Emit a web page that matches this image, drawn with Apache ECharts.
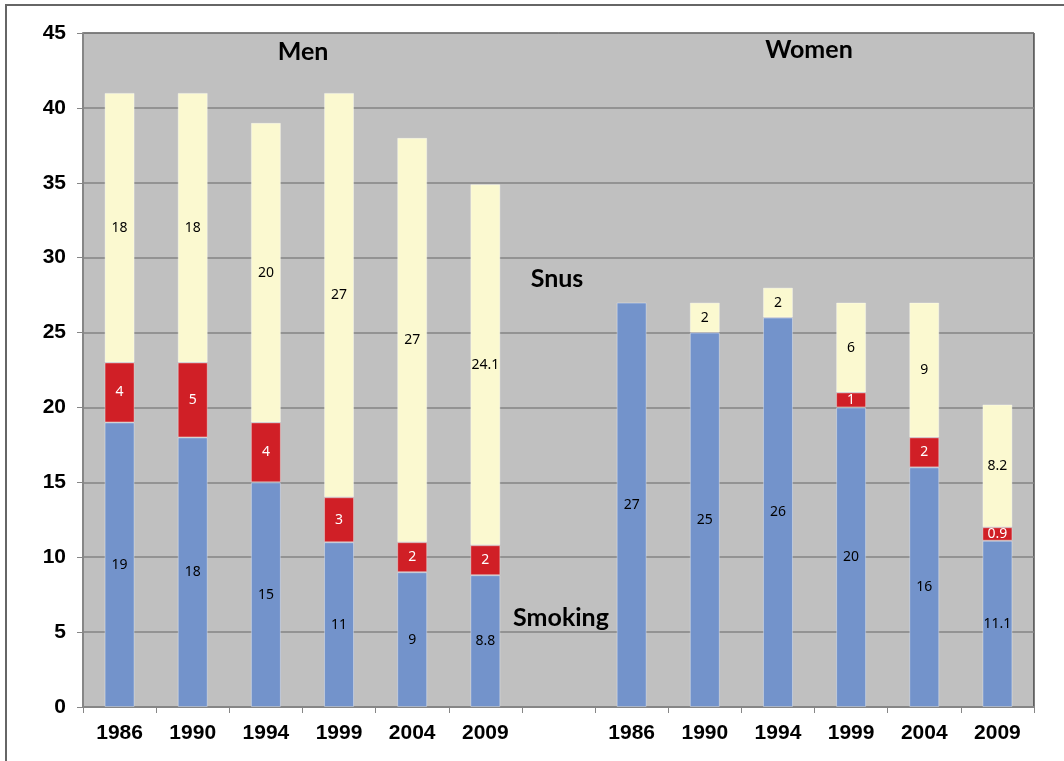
<!DOCTYPE html>
<html><head><meta charset="utf-8">
<script src="https://cdn.jsdelivr.net/npm/echarts@6/dist/echarts.min.js"></script>
<style>html,body{margin:0;padding:0;background:#fff}#c{width:1064px;height:761px}</style>
</head><body><div id="c"></div>
<script>
const categories = ['1986','1990','1994','1999','2004','2009','','1986','1990','1994','1999','2004','2009'];
const smoking = [19,18,15,11,9,8.8,null,27,25,26,20,16,11.1];
const both = [4,5,4,3,2,2,null,null,null,null,1,2,0.9];
const snus = [18,18,20,27,27,24.1,null,null,2,2,6,9,8.2];
const yTicks = {min:0,max:45,interval:5};

const chart = echarts.init(document.getElementById('c'));
const lblFont = {fontFamily:'Noto Sans',fontSize:14};
function mk(name,data,color,lblColor){
  return {name,type:'bar',stack:'s',data,barWidth:30,
    itemStyle:{color,borderColor:'rgba(255,255,255,0.35)',borderWidth:1},
    label:{show:true,position:'inside',color:lblColor,...lblFont,formatter:p=>p.value==null?'':String(p.value)}};
}
chart.setOption({
  animation:false,
  grid:{left:83,right:30,top:33,bottom:54,show:true,backgroundColor:'#C0C0C0',borderColor:'#000',borderWidth:1},
  xAxis:{type:'category',data:categories,
    axisLine:{lineStyle:{color:'#868686',width:2}},
    axisTick:{show:true,length:6,alignWithLabel:false,lineStyle:{color:'#868686'}},
    axisLabel:{margin:16,color:'#000',fontFamily:'Liberation Sans',fontWeight:'bold',fontSize:21,interval:0}},
  yAxis:{type:'value',min:yTicks.min,max:yTicks.max,interval:yTicks.interval,
    axisLine:{show:true,lineStyle:{color:'#868686',width:2}},
    axisTick:{show:true,length:6,lineStyle:{color:'#868686'}},
    splitLine:{lineStyle:{color:'#858585',width:1.5}},
    axisLabel:{margin:17,color:'#000',fontFamily:'Liberation Sans',fontWeight:'bold',fontSize:21}},
  series:[
    mk('Smoking',smoking,'#7393CB','#000'),
    mk('Both',both,'#D01F26','#fff'),
    mk('Snus',snus,'#FBF9D0','#000')
  ],
  graphic:[
    {type:'rect',shape:{x:6,y:5,width:1080,height:800},style:{fill:'none',stroke:'#666',lineWidth:2},silent:true,z:-10},
    {type:'text',x:303,y:52,style:{text:'Men',fontFamily:'Lato',fontWeight:'bold',fontSize:25,fill:'#000',align:'center',verticalAlign:'middle'},z:100},
    {type:'text',x:809,y:50,style:{text:'Women',fontFamily:'Lato',fontWeight:'bold',fontSize:25,fill:'#000',align:'center',verticalAlign:'middle'},z:100},
    {type:'text',x:557,y:279,style:{text:'Snus',fontFamily:'Lato',fontWeight:'bold',fontSize:25,fill:'#000',align:'center',verticalAlign:'middle'},z:100},
    {type:'text',x:561,y:618,style:{text:'Smoking',fontFamily:'Lato',fontWeight:'bold',fontSize:25,fill:'#000',align:'center',verticalAlign:'middle'},z:100}
  ]
});
</script></body></html>
